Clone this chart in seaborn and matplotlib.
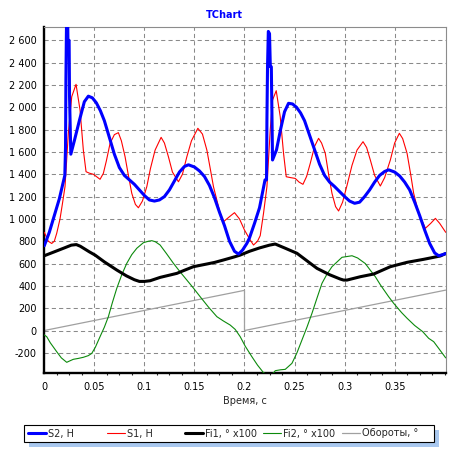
import matplotlib
matplotlib.use("Agg")
import matplotlib.pyplot as plt
from matplotlib.patches import Rectangle
import seaborn as sns
import pandas as pd

# ---------------- data ----------------
S2_T = [0, 0.005, 0.010, 0.015, 0.0205, 0.0212, 0.0216, 0.0220, 0.0224, 0.0232, 0.0236, 0.0248,
        0.0252, 0.0265, 0.030, 0.035, 0.040, 0.044, 0.048, 0.052, 0.056, 0.060, 0.065, 0.070,
        0.075, 0.080, 0.085, 0.090, 0.095, 0.100, 0.105, 0.110, 0.115, 0.120, 0.125, 0.130,
        0.135, 0.140, 0.144, 0.150, 0.155, 0.160, 0.165, 0.170, 0.175, 0.180, 0.185, 0.190,
        0.194, 0.198, 0.2024, 0.205, 0.210, 0.215, 0.2205, 0.2220, 0.2224, 0.2230, 0.2238,
        0.2250, 0.2258, 0.2268, 0.2280, 0.232, 0.236, 0.240, 0.244, 0.248, 0.252, 0.256, 0.260,
        0.265, 0.270, 0.275, 0.280, 0.285, 0.290, 0.295, 0.300, 0.305, 0.310, 0.315, 0.320,
        0.325, 0.330, 0.335, 0.340, 0.344, 0.350, 0.355, 0.360, 0.365, 0.370, 0.375, 0.380,
        0.385, 0.390, 0.394, 0.398, 0.401]
S2_V = [760, 880, 1030, 1180, 1390, 1640, 2250, 2600, 2900, 2900, 2600, 2600,
        2100, 1580, 1700, 1880, 2050, 2100, 2085, 2040, 1970, 1880, 1730, 1580,
        1460, 1390, 1350, 1310, 1260, 1210, 1170, 1160, 1170, 1200, 1260, 1340,
        1420, 1470, 1485, 1465, 1430, 1380, 1300, 1190, 1060, 940, 800, 710,
        685, 720, 781, 830, 960, 1100, 1350, 1350, 1885, 2364, 2680,
        2660, 2364, 2364, 1528, 1620, 1800, 1960, 2036, 2030, 2000, 1950, 1880,
        1750, 1620, 1490, 1390, 1330, 1290, 1245, 1200, 1160, 1140, 1150, 1200,
        1260, 1330, 1390, 1425, 1440, 1420, 1385, 1330, 1260, 1150, 1030, 900,
        780, 695, 670, 680, 690]

S1_T = [0, 0.004, 0.0074, 0.010, 0.0124, 0.0157, 0.018, 0.0207, 0.024, 0.0274, 0.0317, 0.0357,
        0.039, 0.0417, 0.045, 0.049, 0.052, 0.0557, 0.059, 0.062, 0.0657, 0.070, 0.074, 0.077,
        0.0807, 0.084, 0.0874, 0.091, 0.094, 0.098, 0.1024, 0.106, 0.1107, 0.1167, 0.120, 0.124,
        0.128, 0.134, 0.138, 0.1424, 0.147, 0.1534, 0.158, 0.1624, 0.166, 0.169, 0.1757, 0.179,
        0.185, 0.190, 0.195, 0.200, 0.2057, 0.209, 0.213, 0.2157, 0.219, 0.2224, 0.2257, 0.228,
        0.2317, 0.2357, 0.239, 0.2417, 0.246, 0.2507, 0.2545, 0.2584, 0.262, 0.2657, 0.270,
        0.274, 0.277, 0.2807, 0.284, 0.2874, 0.291, 0.294, 0.298, 0.3024, 0.3074, 0.3124,
        0.3184, 0.322, 0.3257, 0.330, 0.3357, 0.340, 0.3457, 0.350, 0.3547, 0.358, 0.3624,
        0.366, 0.369, 0.374, 0.3807, 0.386, 0.3907, 0.395, 0.401]
S1_V = [880, 800, 780, 800, 871, 1000, 1130, 1290, 1767, 2095, 2206, 1976,
        1617, 1423, 1410, 1400, 1380, 1355, 1408, 1520, 1677, 1755, 1773, 1700,
        1557, 1390, 1229, 1130, 1100, 1160, 1289, 1450, 1617, 1731, 1680, 1557,
        1420, 1333, 1400, 1557, 1700, 1812, 1760, 1617, 1440, 1289, 1050, 975,
        1020, 1056, 1000, 900, 811, 766, 800, 850, 1050, 1289, 1797, 2065,
        2149, 1916, 1588, 1378, 1370, 1363, 1330, 1310, 1380, 1498, 1650,
        1722, 1680, 1588, 1400, 1229, 1110, 1071, 1150, 1300, 1480, 1617,
        1692, 1640, 1528, 1390, 1295, 1370, 1528, 1680, 1767, 1720, 1588,
        1400, 1229, 1050, 916, 960, 1005, 960, 880]

FI1_T = [0, 0.010, 0.020, 0.027, 0.032, 0.036, 0.045, 0.0507, 0.060, 0.0724, 0.082, 0.090,
         0.095, 0.100, 0.1057, 0.1157, 0.1324, 0.140, 0.149, 0.1624, 0.170, 0.179, 0.190,
         0.1957, 0.205, 0.215, 0.2250, 0.2307, 0.240, 0.2524, 0.2724, 0.285, 0.2957, 0.299,
         0.3024, 0.3157, 0.329, 0.3457, 0.3624, 0.379, 0.3957, 0.401]
FI1_V = [670, 705, 740, 765, 770, 755, 705, 676, 615, 542, 490, 455,
         440, 440, 446, 476, 512, 540, 572, 596, 610, 632, 660,
         676, 710, 740, 765, 775, 740, 692, 557, 500, 461, 452,
         452, 482, 506, 572, 611, 638, 668, 690]

FI2_T = [0, 0.0024, 0.006, 0.0124, 0.017, 0.0224, 0.026, 0.029, 0.034, 0.039, 0.044, 0.0474,
         0.051, 0.0557, 0.060, 0.064, 0.068, 0.0724, 0.0774, 0.0824, 0.0874, 0.0924, 0.099,
         0.104, 0.1074, 0.111, 0.1157, 0.122, 0.129, 0.1357, 0.1424, 0.149, 0.1557, 0.164,
         0.1724, 0.179, 0.1857, 0.1907, 0.1957, 0.2007, 0.2074, 0.213, 0.219, 0.224, 0.229,
         0.2307, 0.236, 0.2407, 0.2474, 0.2524, 0.2574, 0.2624, 0.2674, 0.2724, 0.2774,
         0.2824, 0.2874, 0.2974, 0.3074, 0.313, 0.3207, 0.3257, 0.3307, 0.3357, 0.344,
         0.349, 0.357, 0.3624, 0.370, 0.378, 0.384, 0.389, 0.394, 0.401]
FI2_V = [-40, -55, -110, -190, -245, -285, -270, -258, -250, -240, -225, -205,
         -150, -55, 30, 124, 250, 378, 500, 602, 680, 737, 787,
         800, 805, 795, 766, 690, 602, 525, 452, 380, 303, 210,
         124, 85, 49, 10, -55, -140, -235, -310, -378, -400, -380,
         -360, -352, -348, -294, -200, -85, 30, 154, 290, 423,
         505, 572, 656, 670, 650, 600, 540, 482, 410, 303,
         244, 160, 110, 45, -10, -70, -100, -160, -245]

REV_T = [0, 0.2, 0.2, 0.401]
REV_V = [0, 360, 0, 362]

SERIES_LABELS = ["S2, H", "S1, H", "Fi1, \u00b0 x100", "Fi2, \u00b0 x100", "Обороты, \u00b0"]
SERIES_COLORS = ["#0000ff", "#ff0000", "#000000", "#0c8a0c", "#a0a0a0"]

X_TICKS = [0, 0.05, 0.1, 0.15, 0.2, 0.25, 0.3, 0.35]
X_TICK_LABELS = ["0", "0.05", "0.1", "0.15", "0.2", "0.25", "0.3", "0.35"]
Y_TICKS = [-200, 0, 200, 400, 600, 800, 1000, 1200, 1400, 1600, 1800, 2000, 2200, 2400, 2600]
Y_TICK_LABELS = ["-200", "0", "200", "400", "600", "800", "1 000", "1 200", "1 400",
                 "1 600", "1 800", "2 000", "2 200", "2 400", "2 600"]

TITLE = "TChart"
X_LABEL = "Время, с"

# ---------------- figure ----------------
sns.set_style("white")
plt.rcParams["font.family"] = ["DejaVu Sans"]
plt.rcParams["font.size"] = 7

W, H = 449, 457
fig = plt.figure(figsize=(W / 100, H / 100), dpi=100)
fig.patch.set_facecolor("white")
ax = fig.add_axes([44.3 / W, 1 - 372.7 / H, (445.7 - 44.3) / W, (372.7 - 27.3) / H])

series = [
    (S2_T, S2_V, 2.2, 6),
    (S1_T, S1_V, 0.8, 5),
    (FI1_T, FI1_V, 2.2, 4),
    (FI2_T, FI2_V, 0.8, 3),
    (REV_T, REV_V, 0.9, 2),
]
for (t, v, lw, z), lab, col in zip(series, SERIES_LABELS, SERIES_COLORS):
    df = pd.DataFrame({"t": t, "v": v})
    sns.lineplot(data=df, x="t", y="v", ax=ax, color=col, linewidth=lw, zorder=z,
                 estimator=None, sort=False, label=lab, legend=False)

ax.set_xlim(0, 0.401)
ax.set_ylim(-378, 2717)
ax.set_xticks(X_TICKS)
ax.set_xticklabels(X_TICK_LABELS)
ax.set_yticks(Y_TICKS)
ax.set_yticklabels(Y_TICK_LABELS)
ax.set_xticks([i * 0.0125 for i in range(33)], minor=True)
ax.tick_params(axis="both", which="major", direction="out", length=3, width=0.8,
               colors="black", labelsize=7)
ax.tick_params(axis="x", which="major", pad=3.5)
ax.tick_params(axis="y", which="major", pad=2.5)
ax.tick_params(axis="x", which="minor", direction="out", length=1.6, width=0.8, bottom=True)

ax.set_axisbelow(True)
ax.grid(True, which="major", color="#8a8a8a", linestyle=(0, (4, 3)), linewidth=0.75)

for side in ("left", "bottom"):
    ax.spines[side].set_color("black")
    ax.spines[side].set_linewidth(1.7)
for side in ("top", "right"):
    ax.spines[side].set_color("#8c8c8c")
    ax.spines[side].set_linewidth(0.8)

ax.set_xlabel(X_LABEL, fontsize=7)
ax.set_ylabel("")
ax.xaxis.set_label_coords(0.5, -(401 - 372.7) / 345.4)
ax.xaxis.label.set_va("center")

fig.text(0.5, 1 - 15 / H, TITLE, color="#0000ff", fontweight="bold", fontsize=7,
         ha="center", va="center")

# legend box with light-blue shadow, entries at fixed column positions
handles, labels = ax.get_legend_handles_labels()
lx0, ly0, lw_, lh_ = 24, 425, 410, 17
fig.add_artist(Rectangle(((lx0 + 5) / W, 1 - (ly0 + lh_ + 5) / H), lw_ / W, lh_ / H,
                         transform=fig.transFigure, facecolor="#a9c8ef", edgecolor="none",
                         zorder=1))
fig.add_artist(Rectangle((lx0 / W, 1 - (ly0 + lh_) / H), lw_ / W, lh_ / H,
                         transform=fig.transFigure, facecolor="white", edgecolor="black",
                         linewidth=0.8, zorder=2))
col_x = [28, 107, 185, 263, 342]
for h, lab, x in zip(handles, labels, col_x):
    lg = fig.legend([h], [lab], loc="center left",
                    bbox_to_anchor=(x / W, 1 - (ly0 + lh_ / 2) / H),
                    bbox_transform=fig.transFigure, borderaxespad=0, borderpad=0,
                    fontsize=7, frameon=False, handlelength=1.85, handletextpad=0.25)
    lg.set_zorder(3)

fig.savefig("out.png", dpi=100)
